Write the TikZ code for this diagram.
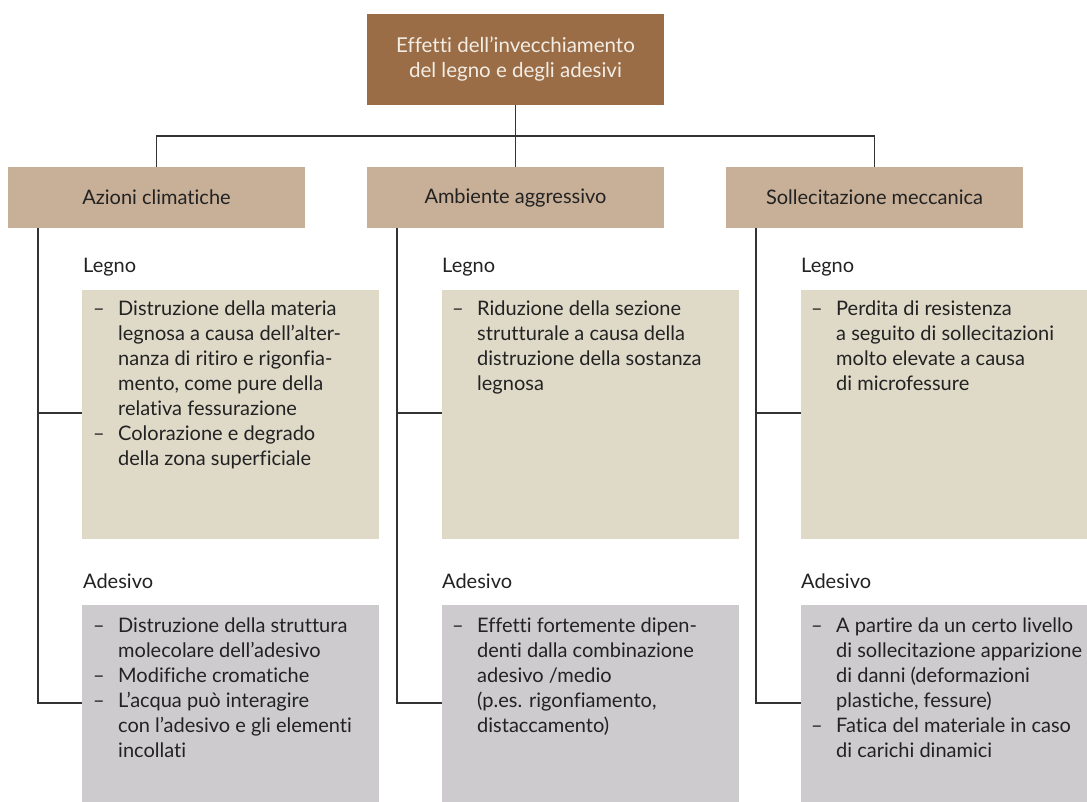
\documentclass[tikz,border=0pt]{standalone}
\usepackage{fontspec}
\setmainfont{Lato}[Ligatures=NoCommon]
\definecolor{headbrown}{HTML}{9A6D47}
\definecolor{cattan}{HTML}{C8AF97}
\definecolor{woodfill}{HTML}{DFD9C8}
\definecolor{gluefill}{HTML}{CDCBCE}
\definecolor{linegrey}{HTML}{333333}
\definecolor{inktext}{HTML}{222222}
\definecolor{headtext}{HTML}{F3EDE4}
\newcommand{\bodyfont}{\fontsize{20}{25}\selectfont}
\newcommand{\headfont}{\fontsize{20.5}{25}\selectfont}
\newcommand{\itm}{\makebox[25pt][l]{–}}
\newcommand{\cnt}{\hspace*{25pt}}
\newcommand{\blist}[1]{\parbox[t]{300pt}{\bodyfont\raggedright #1}}
\tikzset{
  headbox/.style={fill=headbrown, minimum width=297pt, minimum height=91pt, inner sep=0pt,
    text=headtext, align=center, font=\headfont},
  catbox/.style={fill=cattan, minimum width=297pt, minimum height=61pt, inner sep=0pt,
    text=inktext, font=\bodyfont},
  woodbox/.style={fill=woodfill, minimum width=297pt, minimum height=249pt, inner sep=0pt},
  gluebox/.style={fill=gluefill, minimum width=297pt, minimum height=210pt, inner sep=0pt, anchor=north},
  sublabel/.style={anchor=base west, inner sep=0pt, text=inktext, font=\bodyfont},
  itemtext/.style={anchor=base west, inner sep=0pt, text=inktext},
  wire/.style={draw=linegrey, line width=1.3pt}
}
\begin{document}
\begin{tikzpicture}[x=1pt,y=-1pt]
\useasboundingbox (0,0) rectangle (1087,801);
\clip (0,0) rectangle (1087,801);

% heading
\node[headbox] (head) at (515.5,59.5) {Effetti dell’invecchiamento\\del legno e degli adesivi};

% three categories
\node[catbox] (catA) at (156.5,197.5) {Azioni climatiche};
\node[catbox] (catB) at (515.5,197.5) {Ambiente aggressivo};
\node[catbox] (catC) at (874.5,197.5) {Sollecitazione meccanica};

% content boxes: wood (top) and adhesive (bottom)
\node[woodbox] (woodA) at (230.5,414.5) {};
\node[woodbox] (woodB) at (590.5,414.5) {};
\node[woodbox] (woodC) at (949.5,414.5) {};
\node[gluebox] (glueA) at (230.5,605) {};
\node[gluebox] (glueB) at (590.5,605) {};
\node[gluebox] (glueC) at (949.5,605) {};

% sub-headings
\node[sublabel] (lwA) at (83,272) {Legno};
\node[sublabel] (lwB) at (442,272) {Legno};
\node[sublabel] (lwC) at (801,272) {Legno};
\node[sublabel] (lgA) at (83,588) {Adesivo};
\node[sublabel] (lgB) at (442,588) {Adesivo};
\node[sublabel] (lgC) at (801,588) {Adesivo};

% lists
\node[itemtext] (twA) at (93,315) {\blist{%
\itm Distruzione della materia\\
\cnt legnosa a causa dell’alter-\\
\cnt nanza di ritiro e rigonfia-\\
\cnt mento, come pure della\\
\cnt relativa fessurazione\\
\itm Colorazione e degrado\\
\cnt della zona superficiale}};
\node[itemtext] (twB) at (452,315) {\blist{%
\itm Riduzione della sezione\\
\cnt strutturale a causa della\\
\cnt distruzione della sostanza\\
\cnt legnosa}};
\node[itemtext] (twC) at (811,315) {\blist{%
\itm Perdita di resistenza\\
\cnt a seguito di sollecitazioni\\
\cnt molto elevate a causa\\
\cnt di microfessure}};
\node[itemtext] (tgA) at (93,632) {\blist{%
\itm Distruzione della struttura\\
\cnt molecolare dell’adesivo\\
\itm Modifiche cromatiche\\
\itm L’acqua può interagire\\
\cnt con l’adesivo e gli elementi\\
\cnt incollati}};
\node[itemtext] (tgB) at (452,632) {\blist{%
\itm Effetti fortemente dipen-\\
\cnt denti dalla combinazione\\
\cnt adesivo /medio\\
\cnt (p.es. rigonfiamento,\\
\cnt distaccamento)}};
\node[itemtext] (tgC) at (811,632) {\blist{%
\itm A partire da un certo livello\\
\cnt di sollecitazione apparizione\\
\cnt di danni (deformazioni\\
\cnt plastiche, fessure)\\
\itm Fatica del materiale in caso\\
\cnt di carichi dinamici}};

% tree connectors
\coordinate (bus) at (515.5,136);
\draw[wire] (head.south) -- (catB.north);
\draw[wire] (catA.north) -- (catA.north |- bus) -- (catC.north |- bus) -- (catC.north);

\foreach \c/\x in {A/38,B/397,C/756}{
  \coordinate (top\c) at (\x,228);
  \coordinate (mid\c) at (\x,413);
  \coordinate (low\c) at (\x,703);
  \draw[wire] (top\c) -- (low\c) -- (low\c -| glue\c.west);
  \draw[wire] (mid\c) -- (mid\c -| wood\c.west);
}
\end{tikzpicture}
\end{document}
